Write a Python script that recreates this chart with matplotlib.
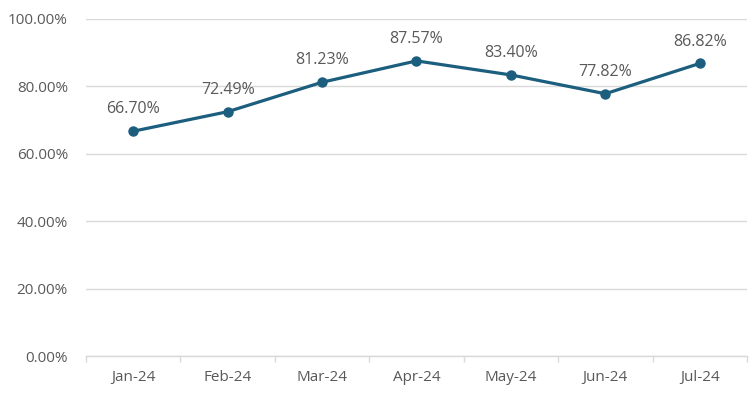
import matplotlib
matplotlib.use('Agg')
import matplotlib.pyplot as plt
from matplotlib.ticker import FuncFormatter, FixedLocator

months = ['Jan-24', 'Feb-24', 'Mar-24', 'Apr-24', 'May-24', 'Jun-24', 'Jul-24']
rates = [66.70, 72.49, 81.23, 87.57, 83.40, 77.82, 86.82]

LINE = '#1C5E7E'
TEXT = '#595959'
GRID = '#D9D9D9'

plt.rcParams['font.family'] = ['Open Sans', 'DejaVu Sans']

fig = plt.figure(figsize=(7.56, 3.93), dpi=100)
ax = fig.add_axes([86 / 756, 1 - 356 / 393, 661 / 756, 337 / 393])

x = list(range(len(months)))
ax.plot(x, rates, '-o', color=LINE, lw=2.3, ms=6.5, zorder=3)

# data labels above each point
for xi, v in zip(x, rates):
    ax.annotate(f'{v:.2f}%', (xi, v), textcoords='offset points', xytext=(0, 10),
                ha='center', va='bottom', fontsize=11.5, color=TEXT)

ax.set_xlim(-0.5, len(months) - 0.5)
ax.set_ylim(0, 100)
ax.set_yticks(range(0, 101, 20))
ax.yaxis.set_major_formatter(FuncFormatter(lambda v, p: f'{v:.2f}%'))
ax.set_xticks(x)
ax.set_xticklabels(months)
ax.xaxis.set_minor_locator(FixedLocator([i - 0.5 for i in range(len(months) + 1)]))

ax.grid(True, axis='y', color=GRID, lw=1)
ax.set_axisbelow(True)
for s in ['top', 'right', 'left']:
    ax.spines[s].set_visible(False)
ax.spines['bottom'].set_color(GRID)
ax.spines['bottom'].set_linewidth(1)

ax.tick_params(axis='y', length=0, pad=13, labelsize=11, labelcolor=TEXT)
ax.tick_params(axis='x', which='major', length=0, pad=10, labelsize=11, labelcolor=TEXT)
ax.tick_params(axis='x', which='minor', length=4, color=GRID, width=1)

fig.savefig('out.png', dpi=100)
